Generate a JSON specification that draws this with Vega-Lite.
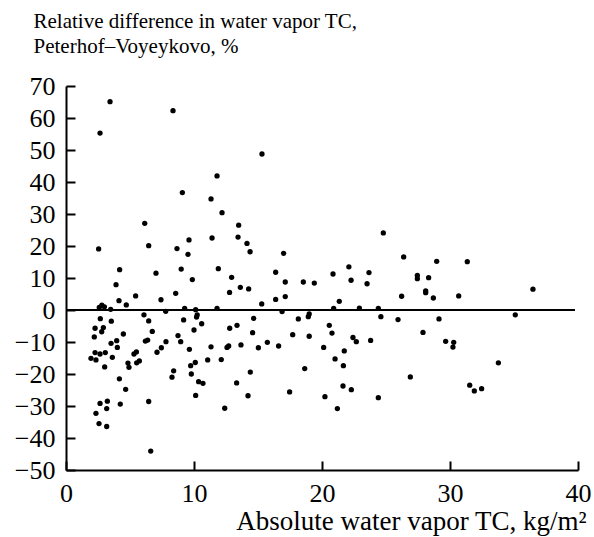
{
  "$schema": "https://vega.github.io/schema/vega-lite/v6.json",
  "width": 512,
  "height": 384,
  "autosize": {"type": "none"},
  "padding": {"left": 66, "top": 86, "right": 16, "bottom": 67},
  "background": "white",
  "config": {
    "view": {"stroke": null},
    "font": "Liberation Serif",
    "text": {"font": "Liberation Serif"},
    "axis": {
      "grid": false,
      "domainColor": "black",
      "domainWidth": 2,
      "tickColor": "black",
      "tickWidth": 2,
      "labelColor": "black",
      "labelFont": "Liberation Serif",
      "labelFontSize": 26,
      "labelOverlap": false,
      "labelFlush": false,
      "titleFont": "Liberation Serif",
      "titleFontWeight": "normal",
      "titleColor": "black"
    }
  },
  "resolve": {"axis": {"x": "independent", "y": "independent"}},
  "data": {
    "values": [
      {"tc": 3.44, "diff": 65.1}, {"tc": 2.66, "diff": 55.3}, {"tc": 8.36, "diff": 62.3}, {"tc": 9.09, "diff": 36.7},
      {"tc": 6.15, "diff": 27.1}, {"tc": 2.55, "diff": 19.1}, {"tc": 6.46, "diff": 20.1}, {"tc": 8.67, "diff": 19.2},
      {"tc": 9.61, "diff": 21.9}, {"tc": 9.53, "diff": 17.4}, {"tc": 4.19, "diff": 12.6}, {"tc": 7.03, "diff": 11.5},
      {"tc": 9.0, "diff": 12.8}, {"tc": 9.87, "diff": 9.5}, {"tc": 3.91, "diff": 7.9}, {"tc": 8.57, "diff": 5.2},
      {"tc": 5.44, "diff": 4.4}, {"tc": 4.14, "diff": 2.9}, {"tc": 7.42, "diff": 3.2}, {"tc": 4.71, "diff": 1.6},
      {"tc": 2.6, "diff": 0.8}, {"tc": 2.8, "diff": 1.5}, {"tc": 3.0, "diff": 1.0}, {"tc": 3.49, "diff": 0.2},
      {"tc": 9.27, "diff": 0.5}, {"tc": 7.79, "diff": -0.4}, {"tc": 10.13, "diff": 0.1}, {"tc": 6.09, "diff": -1.5},
      {"tc": 10.25, "diff": -1.5}, {"tc": 10.2, "diff": -2.2}, {"tc": 2.68, "diff": -2.7}, {"tc": 6.46, "diff": -3.4},
      {"tc": 3.54, "diff": -3.5}, {"tc": 9.19, "diff": -3.1}, {"tc": 2.27, "diff": -5.7}, {"tc": 2.92, "diff": -5.5},
      {"tc": 2.79, "diff": -6.8}, {"tc": 6.74, "diff": -6.7}, {"tc": 10.0, "diff": -6.25}, {"tc": 2.21, "diff": -8.4},
      {"tc": 4.48, "diff": -7.5}, {"tc": 8.75, "diff": -8.0}, {"tc": 3.96, "diff": -9.6}, {"tc": 6.38, "diff": -9.4},
      {"tc": 6.2, "diff": -9.7}, {"tc": 7.81, "diff": -9.9}, {"tc": 8.96, "diff": -9.9}, {"tc": 3.52, "diff": -10.4},
      {"tc": 4.01, "diff": -11.7}, {"tc": 7.45, "diff": -11.8}, {"tc": 9.64, "diff": -12.3}, {"tc": 7.11, "diff": -13.2},
      {"tc": 2.27, "diff": -13.3}, {"tc": 3.07, "diff": -13.3}, {"tc": 2.66, "diff": -13.75}, {"tc": 5.5, "diff": -13.1},
      {"tc": 5.31, "diff": -13.75}, {"tc": 1.95, "diff": -15.1}, {"tc": 2.34, "diff": -15.6}, {"tc": 3.62, "diff": -14.8},
      {"tc": 5.73, "diff": -15.9}, {"tc": 5.52, "diff": -16.5}, {"tc": 4.84, "diff": -16.6}, {"tc": 10.1, "diff": -16.4},
      {"tc": 9.74, "diff": -17.4}, {"tc": 4.92, "diff": -17.9}, {"tc": 3.02, "diff": -17.8}, {"tc": 8.41, "diff": -19.0},
      {"tc": 9.79, "diff": -20.0}, {"tc": 8.28, "diff": -21.0}, {"tc": 4.17, "diff": -21.5}, {"tc": 10.36, "diff": -22.4},
      {"tc": 10.7, "diff": -22.9}, {"tc": 4.66, "diff": -24.8}, {"tc": 10.13, "diff": -26.7}, {"tc": 6.46, "diff": -28.6},
      {"tc": 3.23, "diff": -28.5}, {"tc": 2.66, "diff": -29.2}, {"tc": 4.24, "diff": -29.4}, {"tc": 3.18, "diff": -30.8},
      {"tc": 2.34, "diff": -32.3}, {"tc": 2.58, "diff": -35.5}, {"tc": 3.18, "diff": -36.4}, {"tc": 6.62, "diff": -44.1},
      {"tc": 15.31, "diff": 48.75}, {"tc": 11.8, "diff": 41.9}, {"tc": 11.33, "diff": 34.7}, {"tc": 12.19, "diff": 30.4},
      {"tc": 13.49, "diff": 26.5}, {"tc": 11.41, "diff": 22.5}, {"tc": 13.44, "diff": 22.8}, {"tc": 14.14, "diff": 20.8},
      {"tc": 14.38, "diff": 18.2}, {"tc": 17.0, "diff": 17.7}, {"tc": 11.9, "diff": 12.9}, {"tc": 22.1, "diff": 13.5},
      {"tc": 16.38, "diff": 11.8}, {"tc": 20.86, "diff": 11.25}, {"tc": 23.67, "diff": 11.7}, {"tc": 12.94, "diff": 10.2},
      {"tc": 17.13, "diff": 8.75}, {"tc": 18.54, "diff": 8.75}, {"tc": 19.4, "diff": 8.4}, {"tc": 22.27, "diff": 9.3},
      {"tc": 23.52, "diff": 8.2}, {"tc": 12.78, "diff": 5.5}, {"tc": 13.62, "diff": 7.1}, {"tc": 14.27, "diff": 6.6},
      {"tc": 16.38, "diff": 3.3}, {"tc": 17.13, "diff": 4.2}, {"tc": 15.29, "diff": 1.9}, {"tc": 21.35, "diff": 2.7},
      {"tc": 11.8, "diff": 0.5}, {"tc": 20.91, "diff": 0.5}, {"tc": 22.92, "diff": 0.6}, {"tc": 24.4, "diff": 0.5},
      {"tc": 16.88, "diff": -0.5}, {"tc": 19.0, "diff": -1.25}, {"tc": 18.93, "diff": -2.1}, {"tc": 14.66, "diff": -2.6},
      {"tc": 18.15, "diff": -2.8}, {"tc": 10.6, "diff": -4.3}, {"tc": 24.6, "diff": -2.1}, {"tc": 20.57, "diff": -4.8},
      {"tc": 13.36, "diff": -4.8}, {"tc": 12.79, "diff": -5.7}, {"tc": 14.58, "diff": -7.1}, {"tc": 20.78, "diff": -7.2},
      {"tc": 17.71, "diff": -7.7}, {"tc": 19.0, "diff": -8.2}, {"tc": 22.42, "diff": -8.6}, {"tc": 22.68, "diff": -9.9},
      {"tc": 23.8, "diff": -9.5}, {"tc": 15.73, "diff": -10.1}, {"tc": 13.67, "diff": -10.9}, {"tc": 11.33, "diff": -11.5},
      {"tc": 16.61, "diff": -11.25}, {"tc": 12.58, "diff": -11.7}, {"tc": 12.71, "diff": -11.25}, {"tc": 15.03, "diff": -11.8},
      {"tc": 20.13, "diff": -11.7}, {"tc": 21.74, "diff": -12.8}, {"tc": 11.07, "diff": -15.6}, {"tc": 12.13, "diff": -15.5},
      {"tc": 21.02, "diff": -15.3}, {"tc": 21.67, "diff": -17.4}, {"tc": 18.65, "diff": -18.3}, {"tc": 14.4, "diff": -19.4},
      {"tc": 13.33, "diff": -22.8}, {"tc": 21.64, "diff": -23.75}, {"tc": 22.29, "diff": -24.9}, {"tc": 17.47, "diff": -25.6},
      {"tc": 14.22, "diff": -26.8}, {"tc": 20.23, "diff": -27.1}, {"tc": 24.4, "diff": -27.4}, {"tc": 12.4, "diff": -30.7},
      {"tc": 21.2, "diff": -30.8}, {"tc": 24.79, "diff": 24.1}, {"tc": 26.38, "diff": 16.6}, {"tc": 28.96, "diff": 15.2},
      {"tc": 31.35, "diff": 15.1}, {"tc": 27.45, "diff": 10.8}, {"tc": 27.45, "diff": 9.8}, {"tc": 28.33, "diff": 10.1},
      {"tc": 28.1, "diff": 6.0}, {"tc": 28.1, "diff": 5.4}, {"tc": 36.48, "diff": 6.5}, {"tc": 26.22, "diff": 4.3},
      {"tc": 28.7, "diff": 3.75}, {"tc": 30.68, "diff": 4.4}, {"tc": 25.94, "diff": -3.0}, {"tc": 29.14, "diff": -2.8},
      {"tc": 35.1, "diff": -1.5}, {"tc": 27.89, "diff": -7.0}, {"tc": 29.66, "diff": -9.8}, {"tc": 30.29, "diff": -10.1},
      {"tc": 30.23, "diff": -11.6}, {"tc": 33.78, "diff": -16.5}, {"tc": 26.9, "diff": -20.9}, {"tc": 31.54, "diff": -23.5},
      {"tc": 31.9, "diff": -25.3}, {"tc": 32.47, "diff": -24.6}
    ]
  },
  "layer": [
    {
      "mark": {"type": "rule", "color": "black", "strokeWidth": 2},
      "encoding": {
        "x": {
          "datum": 0,
          "type": "quantitative",
          "axis": {
            "orient": "top",
            "offset": -384,
            "values": [0, 10, 20, 30, 40],
            "domain": false,
            "labels": false,
            "ticks": true,
            "tickSize": 9,
            "title": null
          }
        },
        "x2": {"datum": 39.7},
        "y": {
          "datum": 0,
          "type": "quantitative",
          "axis": {
            "orient": "right",
            "offset": -512,
            "values": [-50, -40, -30, -20, -10, 0, 10, 20, 30, 40, 50, 60, 70],
            "domain": false,
            "labels": false,
            "ticks": true,
            "tickSize": 9,
            "title": null
          }
        }
      }
    },
    {
      "mark": {"type": "circle", "size": 28, "color": "black", "opacity": 1},
      "encoding": {
        "x": {
          "field": "tc",
          "type": "quantitative",
          "scale": {"domain": [0, 40], "nice": false, "zero": false},
          "axis": {
            "orient": "bottom",
            "values": [0, 10, 20, 30, 40],
            "ticks": false,
            "tickSize": 0,
            "labelPadding": 10,
            "labelFont": "Liberation Serif",
            "title": "Absolute water vapor TC, kg/m²",
            "titleFontSize": 27,
            "titleAnchor": "end",
            "titleAlign": "right",
            "titleBaseline": "alphabetic",
            "titleX": 520,
            "titleY": 59
          }
        },
        "y": {
          "field": "diff",
          "type": "quantitative",
          "scale": {"domain": [-50, 70], "nice": false, "zero": false},
          "axis": {
            "orient": "left",
            "values": [-50, -40, -30, -20, -10, 0, 10, 20, 30, 40, 50, 60, 70],
            "ticks": false,
            "tickSize": 0,
            "labelPadding": 11,
            "labelFont": "Liberation Serif",
            "title": ["Relative difference in water vapor TC,", "Peterhof–Voyeykovo, %"],
            "titleFontSize": 21,
            "titleAngle": 0,
            "titleAlign": "left",
            "titleBaseline": "alphabetic",
            "titleLineHeight": 25,
            "titleX": -33,
            "titleY": -59
          }
        }
      }
    }
  ]
}
